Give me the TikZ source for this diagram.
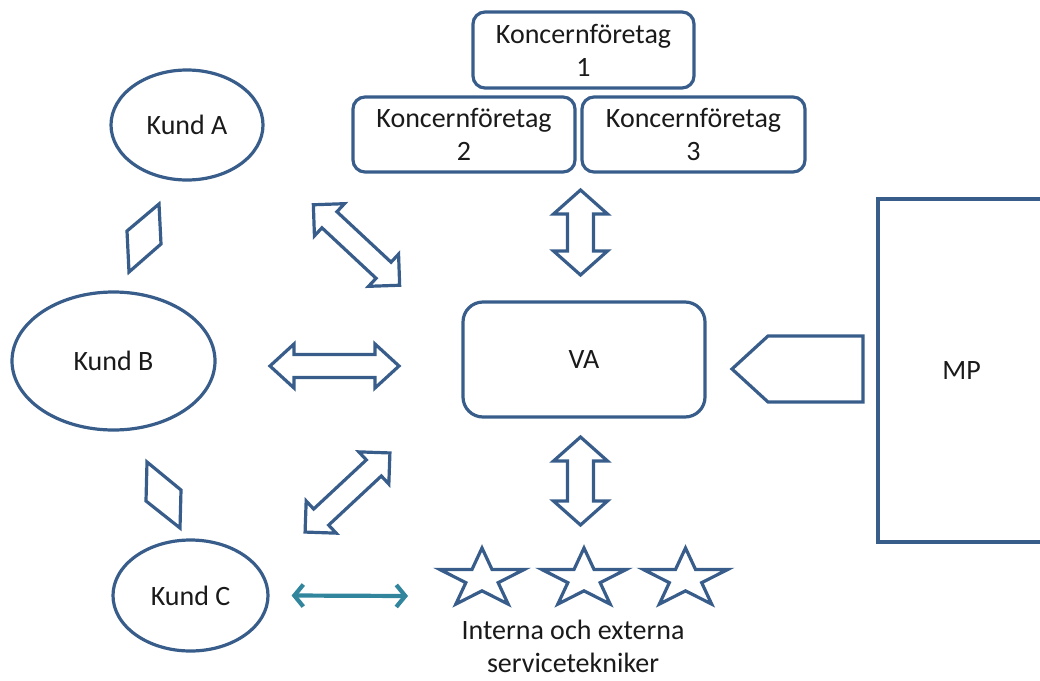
\documentclass[tikz,border=0pt]{standalone}
\usepackage{fontspec}
\setmainfont{Carlito}
\usetikzlibrary{shapes.geometric,arrows.meta}
\definecolor{shapeblue}{HTML}{385D8A}
\definecolor{linkteal}{HTML}{31859C}
\definecolor{textdark}{HTML}{1A1A1A}
\tikzset{
  outline/.style={draw=shapeblue, line width=3.2pt, line join=miter},
  labelfont/.style={font=\fontsize{28}{33}\selectfont, text=textdark},
  entity/.style={outline, labelfont, align=center, inner sep=0pt},
  customer/.style={outline, labelfont, ellipse, inner sep=0pt},
  tealarrow/.style={draw=linkteal, line width=4.2pt,
    arrows={Straight Barb[length=9pt,width=22pt,line width=4.2pt]-Straight Barb[length=9pt,width=22pt,line width=4.2pt]}},
  % block double arrow along the local x axis:
  % #1 length, #2 head width, #3 shaft width, #4 head length
  pics/dblarrow/.style n args={4}{code={
    \draw[outline] (-#1/2,0) -- (-#1/2+#4,-#2/2) -- (-#1/2+#4,-#3/2)
      -- (#1/2-#4,-#3/2) -- (#1/2-#4,-#2/2) -- (#1/2,0)
      -- (#1/2-#4,#2/2) -- (#1/2-#4,#3/2) -- (-#1/2+#4,#3/2)
      -- (-#1/2+#4,#2/2) -- cycle;
  }},
  % five-pointed star outline, 86 wide and 57 high
  pics/techstar/.style={code={
    \draw[outline, xscale=44.5, yscale=31]
      (-90:1) -- (-54:0.382) -- (-18:1) -- (18:0.382) -- (54:1)
      -- (90:0.382) -- (126:1) -- (162:0.382) -- (198:1) -- (234:0.382) -- cycle;
  }},
}
\begin{document}
\begin{tikzpicture}[x=1pt,y=-1pt]
\useasboundingbox (0,0) rectangle (1040,680);
\clip (0,0) rectangle (1040,680);

% group companies
\node[entity, rounded corners=12pt, minimum width=221pt, minimum height=76pt] (k1) at (583.5,50) {Koncernföretag\\1};
\node[entity, rounded corners=12pt, minimum width=222pt, minimum height=75pt] (k2) at (464,134.5) {Koncernföretag\\2};
\node[entity, rounded corners=12pt, minimum width=223pt, minimum height=75pt] (k3) at (693.5,134.5) {Koncernföretag\\3};

% central unit and MP
\node[entity, rounded corners=20pt, minimum width=242pt, minimum height=115pt] (va) at (584,359.5) {VA};
\node[entity, minimum width=167pt, minimum height=343pt] (mp) at (961.5,370.5) {MP};

% customers
\node[customer, minimum width=152pt, minimum height=110pt] (ka) at (187,125) {Kund A};
\node[customer, minimum width=203pt, minimum height=138pt] (kb) at (113.5,361) {Kund B};
\node[customer, minimum width=155pt, minimum height=111pt] (kc) at (190.5,595.5) {Kund C};

% small parallelograms between the customers
\draw[outline] (127,231) -- (159,204) -- (161,244) -- (129,272) -- cycle;
\draw[outline] (147,462) -- (181,490) -- (180,528) -- (146,501) -- cycle;

% pentagon pointing from MP to VA
\draw[outline] (732,369) -- (768,336) -- (863,336) -- (863,402) -- (768,402) -- cycle;

% block double arrows
\pic (arrA) [rotate=-43] at (356.5,245) {dblarrow={118}{44}{22}{22}};
\pic (arrB) at (334.5,366) {dblarrow={129}{44}{23}{24}};
\pic (arrC) [rotate=43] at (347.5,492.5) {dblarrow={116}{44}{22}{22}};
\pic (arrK) [rotate=90] at (580.5,232.5) {dblarrow={85}{54}{26}{24}};
\pic (arrT) [rotate=90] at (580.5,481) {dblarrow={88}{54}{26}{24}};

% service technicians
\pic (star1) at (482,579) {techstar};
\pic (star2) at (584,579) {techstar};
\pic (star3) at (685.5,579) {techstar};
\coordinate (techs) at (439,596);
\node[labelfont, align=center] (techlabel) at (573,646) {Interna och externa\\servicetekniker};

% link between Kund C and the technicians
\draw[tealarrow] ([xshift=22pt]kc.east) -- ([xshift=-31pt]techs);
\end{tikzpicture}
\end{document}
